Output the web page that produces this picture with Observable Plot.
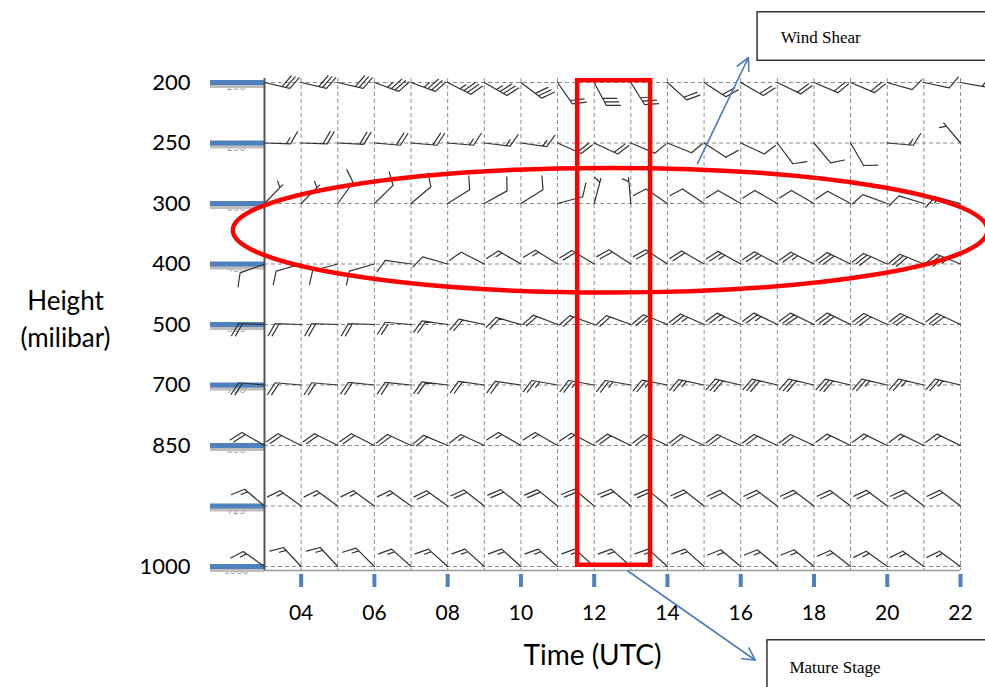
<!DOCTYPE html>
<html>
<head>
<meta charset="utf-8">
<script src="https://cdn.jsdelivr.net/npm/d3@7"></script>
<script src="https://cdn.jsdelivr.net/npm/@observablehq/plot@0.6"></script>
<style>
  body { margin: 0; background: #fff; }
</style>
</head>
<body>
<div id="chart"></div>
<script>
// ---- categories / ticks ----
const hours = [3,4,5,6,7,8,9,10,11,12,13,14,15,16,17,18,19,20,21,22];
const levels = [200, 250, 300, 400, 500, 700, 850, 925, 1000];
const levelLabels = ["200", "250", "300", "400", "500", "700", "850", "", "1000"];
const timeTicks = [4, 6, 8, 10, 12, 14, 16, 18, 20, 22];
const yTitle = "Height\n(milibar)";
const xTitle = "Time (UTC)";

// ---- wind direction (deg, from) and speed (kt) per level, hours 03..22 ----
const dir200  = [103,103,103,110,110,117,120,127,145,152,148,132,123,120,116,113,113,106,102,100];
const spd200  = [ 30, 30, 30, 35, 35, 35, 35, 30, 20, 30, 25, 20, 20, 20, 20, 20, 20, 10, 10,  5];
const dir250  = [ 92, 92, 93, 95, 95, 95, 97, 98,114,115,113,112,123,115,143,140,150, 95,null,320];
const spd250  = [ 15, 20, 20, 20, 20, 15, 15, 15, 20, 20, 10, 10, 10, 10, 10, 10, 10, 15,null, 5];
const dir300  = [ 44, 45, 36, 46, 50, 58, 61, 58, 75, 15,355,304,304,300,300,300,298,290,287,285];
const spd300  = [  5,  5, 10, 10, 10, 10, 10, 10, 10,  5,  5, 10, 10, 10, 10, 10, 10, 10, 10, 15];
const dir400  = [250,254,255,254,278,286,297,300,302,301,303,303,300,299,298,297,296,294,292,292];
const spd400  = [ 10, 10, 10, 10, 10, 10, 10, 15, 15, 20, 20, 20, 20, 25, 25, 25, 30, 30, 30, 35];
const dir500  = [272,272,272,272,275,278,282,286,291,290,290,292,294,296,296,296,296,295,295,295];
const spd500  = [ 20, 20, 20, 20, 20, 20, 20, 20, 20, 20, 20, 25, 25, 25, 25, 30, 30, 30, 30, 30];
const dir700  = [275,275,275,276,276,277,278,278,280,280,280,281,282,283,283,283,283,283,283,283];
const spd700  = [ 20, 20, 20, 20, 20, 20, 20, 20, 25, 25, 25, 25, 25, 30, 30, 30, 30, 25, 25, 25];
const dir850  = [300,297,297,297,295,293,295,300,300,298,296,295,295,295,295,295,296,296,296,296];
const spd850  = [ 20, 20, 20, 20, 20, 20, 15, 15, 15, 15, 20, 20, 20, 20, 20, 20, 15, 15, 15, 15];
const dir925  = [310,306,306,306,306,306,308,309,309,310,310,309,308,307,307,307,307,307,307,307];
const spd925  = [ 15, 15, 15, 15, 15, 20, 20, 20, 20, 20, 20, 20, 20, 20, 20, 20, 20, 20, 20, 20];
const dir1000 = [305,317,317,315,312,312,312,312,312,312,312,312,312,310,310,310,308,306,306,306];
const spd1000 = [ 15, 15, 15, 15, 15, 15, 15, 15, 15, 15, 15, 15, 15, 15, 15, 15, 15, 15, 15, 15];

// ---- annotations (time in hours, level as index of the levels list) ----
const matureBox   = {x1: 11.55, x2: 13.54, y1: -0.03, y2: 7.98};
const shearZone   = {time: 12.45, level: 2.45, rx: 10.3, ry: 1.03};
const shearNote   = {label: "Wind Shear",   x1: 16.46, x2: 23, y1: -1.16, y2: -0.36, tx: 17.09, ty: -0.74};
const matureNote  = {label: "Mature Stage", x1: 16.73, x2: 23, y1: 9.22,  y2: 10.2,  tx: 17.33, ty: 9.67};
const noteArrows  = [
  {x1: 14.82, y1: 1.34, x2: 16.21, y2: -0.41},
  {x1: 12.91, y1: 8.07, x2: 16.40, y2: 9.55}
];

// ---- table ----
const DIR = [dir200, dir250, dir300, dir400, dir500, dir700, dir850, dir925, dir1000];
const SPD = [spd200, spd250, spd300, spd400, spd500, spd700, spd850, spd925, spd1000];
const levelIdx = levels.map((_, i) => i);
const winds = [];
levels.forEach((p, li) => hours.forEach((h, hi) => {
  const s = SPD[li][hi], d = DIR[li][hi];
  if (s != null && d != null) winds.push({time: h, level: li, pressure: p, dir: d, spd: s});
}));

// wind barb shape (southern-hemisphere convention: feathers on the counter-clockwise side)
function barbShape(spd) {
  return {
    draw(ctx, l) {
      ctx.moveTo(0, 0);
      ctx.lineTo(0, -l);
      let s = Math.round(spd / 5) * 5;
      const gap = 4, bl = 14, ang = 62 * Math.PI / 180;
      const bx = -Math.sin(ang), by = -Math.cos(ang);
      let pos = -l;
      const flags = Math.floor(s / 50); s -= flags * 50;
      const full = Math.floor(s / 10); s -= full * 10;
      const half = s >= 5 ? 1 : 0;
      for (let i = 0; i < flags; i++) {
        ctx.moveTo(0, pos);
        ctx.lineTo(bx * bl, pos + by * bl);
        ctx.lineTo(0, pos + gap * 1.5);
        pos += gap * 2;
      }
      for (let i = 0; i < full; i++) {
        ctx.moveTo(0, pos);
        ctx.lineTo(bx * bl, pos + by * bl);
        pos += gap;
      }
      if (half) {
        if (flags + full === 0) pos += gap;
        ctx.moveTo(0, pos);
        ctx.lineTo(bx * bl / 2, pos + by * bl / 2);
      }
    }
  };
}
const speeds = Array.from(new Set(winds.map(d => d.spd)));
const barbMarks = speeds.map(s => Plot.vector(winds.filter(d => d.spd === s), {
  x: "time", y: "level", rotate: "dir", length: 26, anchor: "start",
  shape: barbShape(s), stroke: "#333", strokeWidth: 1.2
}));

const ellipseMark = (index, scales) => {
  const {x, y} = scales;
  const cx = x(shearZone.time), cy = y(shearZone.level);
  return d3.create("svg:ellipse")
    .attr("cx", cx).attr("cy", cy)
    .attr("rx", Math.abs(x(shearZone.time + shearZone.rx) - cx))
    .attr("ry", Math.abs(y(shearZone.level + shearZone.ry) - cy))
    .attr("fill", "none").attr("stroke", "#ff0000").attr("stroke-width", 4.5)
    .node();
};

const chart = Plot.plot({
  width: 985,
  height: 687,
  marginLeft: 264,
  marginRight: 25,
  marginTop: 78,
  marginBottom: 117,
  style: {fontFamily: "Lato, 'Open Sans', sans-serif", background: "#fff", overflow: "visible", color: "#000"},
  x: {domain: [3, 22], axis: null},
  y: {domain: [0, 8], reverse: true, insetTop: 4, insetBottom: 4, axis: null},
  marks: [
    Plot.ruleX(hours, {x: d => d, stroke: "#8c8c8c", strokeDasharray: "4,3", strokeWidth: 1}),
    Plot.ruleY(levelIdx, {y: d => d, stroke: "#8c8c8c", strokeDasharray: "4,3", strokeWidth: 1}),
    Plot.text(levelIdx, {y: d => d, frameAnchor: "left", dx: -28, dy: 4, text: i => String(levels[i]),
      fill: "#a0a0a0", fontSize: 11, fontStyle: "italic", textAnchor: "middle"}),
    Plot.axisY(levelIdx, {anchor: "left", tickSize: 54, stroke: "#bdbdbd", strokeWidth: 5, dy: 3, fill: "none", label: null}),
    Plot.axisY(levelIdx, {anchor: "left", tickSize: 54, stroke: "#4f81bd", strokeWidth: 5, tickPadding: 20,
      tickFormat: i => levelLabels[i], fontSize: 22, fill: "#000", label: null}),
    Plot.ruleX([3], {x: d => d, stroke: "#555", strokeWidth: 2}),
    Plot.ruleY([8], {y: d => d, dy: 4, stroke: "#9a9a9a", strokeWidth: 1.5}),
    Plot.axisX(timeTicks, {anchor: "bottom", tickSize: 13, dy: 4, stroke: "#4f81bd", strokeWidth: 4, tickPadding: 18,
      tickFormat: d => String(d).padStart(2, "0"), fontSize: 21, fill: "#000", label: null}),
    ...barbMarks,
    ellipseMark,
    Plot.rect([matureBox], {x1: "x1", x2: "x2", y1: "y1", y2: "y2", fill: "none", stroke: "#ff0000", strokeWidth: 4.5}),
    Plot.rect([shearNote, matureNote], {x1: "x1", x2: "x2", y1: "y1", y2: "y2", fill: "#fff", stroke: "#000", strokeWidth: 1.2}),
    Plot.text([shearNote, matureNote], {x: "tx", y: "ty", text: "label", textAnchor: "start",
      fontFamily: "'Liberation Serif', 'DejaVu Serif', serif", fontSize: 17, fill: "#000"}),
    Plot.arrow(noteArrows, {x1: "x1", y1: "y1", x2: "x2", y2: "y2", stroke: "#4a7ebb", strokeWidth: 1.6, headLength: 13, headAngle: 55}),
    Plot.text([yTitle], {frameAnchor: "left", dx: -199, dy: -8, text: d => d, textAnchor: "middle", fontSize: 26, lineHeight: 1.45, fill: "#000"}),
    Plot.text([xTitle], {frameAnchor: "bottom", dx: -20, dy: 94, text: d => d, textAnchor: "middle", fontSize: 28, fill: "#000"})
  ]
});
document.getElementById("chart").appendChild(chart);
</script>
</body>
</html>
